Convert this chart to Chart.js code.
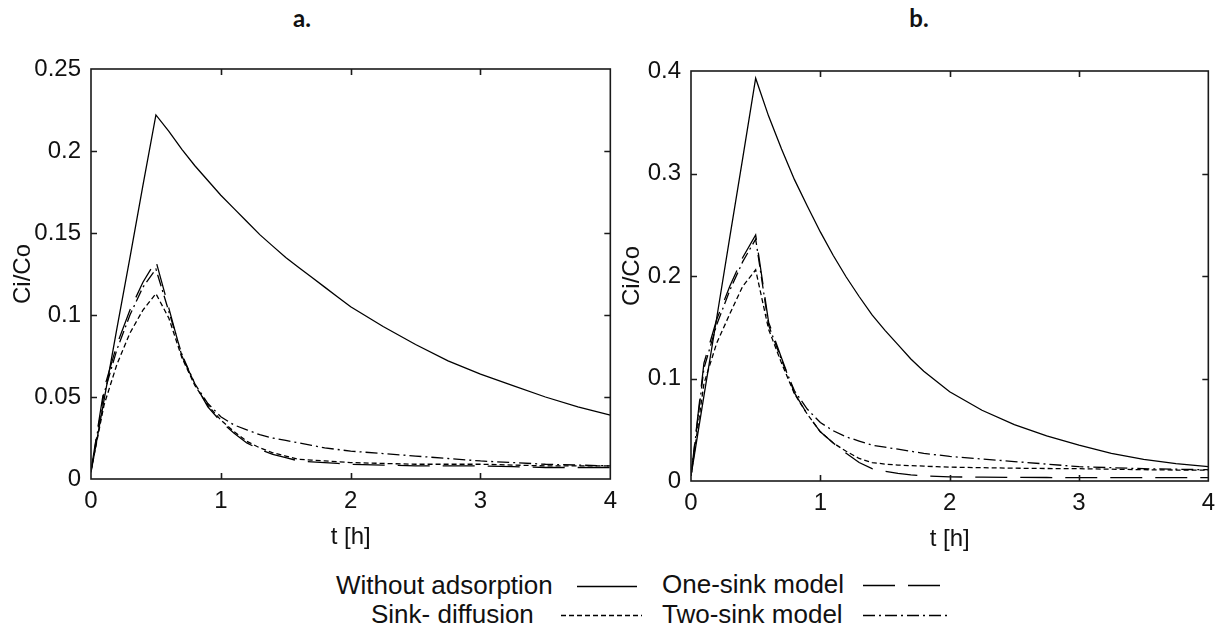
<!DOCTYPE html>
<html>
<head>
<meta charset="utf-8">
<script src="https://cdn.jsdelivr.net/npm/chart.js@4.4.1/dist/chart.umd.min.js"></script>
<style>
  html, body { margin: 0; padding: 0; background: #fff; }
  body { width: 1223px; height: 633px; position: relative; overflow: hidden;
         font-family: "Liberation Sans", Arial, sans-serif; color: #111; }
  .panel { position: absolute; }
  #wrapA { left: 0; top: 0; width: 625px; height: 560px; }
  #wrapB { left: 615px; top: 2px; width: 608px; height: 560px; }
  .title { position: absolute; top: 6px; width: 60px; text-align: center;
           font-family: Lato, "Open Sans", sans-serif; font-weight: 700; font-size: 24px; line-height: 24px; }
  .lg { position: absolute; font-size: 26px; line-height: 30px; white-space: pre; }
  #legendLines { position: absolute; left: 0; top: 0; }
</style>
</head>
<body>
<div class="title" style="left:272px">a.</div>
<div class="title" style="left:889px">b.</div>
<div class="panel" id="wrapA"><canvas id="chartA"></canvas></div>
<div class="panel" id="wrapB"><canvas id="chartB"></canvas></div>
<div id="legend"></div>
<svg id="legendLines" width="1223" height="633"></svg>

<script>
// time points [h], shared by every curve
const times = [0, 0.1, 0.2, 0.3, 0.4, 0.5, 0.6, 0.7, 0.8, 0.9,
               1.0, 1.1, 1.2, 1.3, 1.4, 1.5, 1.6, 1.7, 1.8, 1.9,
               2.0, 2.25, 2.5, 2.75, 3.0, 3.25, 3.5, 3.75, 4.0];

const seriesNames = ['Without adsorption', 'One-sink model', 'Sink- diffusion', 'Two-sink model'];

// panel a
const withoutA  = [0.004, 0.048, 0.092, 0.135, 0.179, 0.222, 0.212, 0.201, 0.191, 0.182,
                   0.173, 0.165, 0.157, 0.149, 0.142, 0.135, 0.129, 0.123, 0.117, 0.111,
                   0.105, 0.093, 0.082, 0.072, 0.064, 0.057, 0.050, 0.044, 0.039];
const oneSinkA  = [0.005, 0.055, 0.082, 0.103, 0.120, 0.133, 0.104, 0.075, 0.058, 0.044,
                   0.035, 0.028, 0.022, 0.018, 0.015, 0.013, 0.011, 0.0105, 0.010, 0.0095,
                   0.009, 0.0085, 0.008, 0.008, 0.008, 0.0075, 0.007, 0.007, 0.007];
const sinkDiffA = [0.005, 0.045, 0.070, 0.089, 0.103, 0.113, 0.098, 0.074, 0.057, 0.045,
                   0.036, 0.029, 0.023, 0.019, 0.016, 0.014, 0.012, 0.0115, 0.011, 0.0105,
                   0.010, 0.0095, 0.009, 0.009, 0.009, 0.0085, 0.008, 0.008, 0.008];
const twoSinkA  = [0.005, 0.052, 0.079, 0.100, 0.117, 0.128, 0.102, 0.076, 0.058, 0.046,
                   0.038, 0.033, 0.030, 0.027, 0.025, 0.0235, 0.022, 0.0205, 0.019, 0.018,
                   0.017, 0.0155, 0.014, 0.0125, 0.011, 0.010, 0.009, 0.0085, 0.008];

// panel b
const withoutB  = [0.005, 0.083, 0.160, 0.238, 0.315, 0.393, 0.356, 0.324, 0.294, 0.268,
                   0.243, 0.220, 0.199, 0.180, 0.162, 0.147, 0.133, 0.119, 0.107, 0.097,
                   0.087, 0.069, 0.055, 0.044, 0.035, 0.027, 0.021, 0.017, 0.014];
const oneSinkB  = [0.005, 0.115, 0.158, 0.190, 0.218, 0.240, 0.155, 0.120, 0.086, 0.065,
                   0.048, 0.037, 0.027, 0.018, 0.012, 0.0095, 0.0075, 0.006, 0.005, 0.0045,
                   0.004, 0.0037, 0.0035, 0.0034, 0.0033, 0.0033, 0.0032, 0.0032, 0.0032];
const sinkDiffB = [0.005, 0.095, 0.135, 0.163, 0.190, 0.206, 0.148, 0.115, 0.085, 0.065,
                   0.048, 0.037, 0.029, 0.022, 0.018, 0.0165, 0.0155, 0.015, 0.0145, 0.014,
                   0.0135, 0.013, 0.0125, 0.0122, 0.012, 0.0115, 0.011, 0.0107, 0.0105];
const twoSinkB  = [0.005, 0.110, 0.153, 0.186, 0.214, 0.236, 0.152, 0.118, 0.088, 0.070,
                   0.057, 0.049, 0.043, 0.039, 0.035, 0.033, 0.031, 0.029, 0.027, 0.0255,
                   0.024, 0.0215, 0.019, 0.0165, 0.014, 0.013, 0.012, 0.0115, 0.011];

// axis ticks
const xTicks  = [0, 1, 2, 3, 4];
const yTicksA = [0, 0.05, 0.1, 0.15, 0.2, 0.25];
const yTicksB = [0, 0.1, 0.2, 0.3, 0.4];

// line styles: solid, long dash, short dash, dash-dot
const dashes = [[], [32, 13], [5, 3], [12, 4, 2, 4]];

const tickFont = { family: '"Liberation Sans", Arial, sans-serif', size: 24 };

// closed box with inward ticks on all four sides, like the original figure
const boxTicks = {
  id: 'boxTicks',
  afterDraw(chart) {
    const { ctx, chartArea: a, scales: { x, y } } = chart;
    ctx.save();
    ctx.strokeStyle = '#1a1a1a';
    ctx.lineWidth = 1.6;
    ctx.strokeRect(a.left, a.top, a.right - a.left, a.bottom - a.top);
    ctx.beginPath();
    x.ticks.forEach(t => {
      const px = Math.round(x.getPixelForValue(t.value)) + 0.5;
      if (px < a.left + 2 || px > a.right - 2) return;
      ctx.moveTo(px, a.bottom); ctx.lineTo(px, a.bottom - 6);
      ctx.moveTo(px, a.top); ctx.lineTo(px, a.top + 6);
    });
    y.ticks.forEach(t => {
      const py = Math.round(y.getPixelForValue(t.value)) + 0.5;
      if (py < a.top + 2 || py > a.bottom - 2) return;
      ctx.moveTo(a.left, py); ctx.lineTo(a.left + 6, py);
      ctx.moveTo(a.right, py); ctx.lineTo(a.right - 6, py);
    });
    ctx.stroke();
    ctx.restore();
  }
};

function makeChart(id, curves, yTicks, o) {
  const datasets = curves.map((vals, i) => ({
    label: seriesNames[i],
    data: times.map((t, j) => ({ x: t, y: vals[j] })),
    borderColor: '#000',
    borderWidth: 1.3,
    borderDash: dashes[i],
    pointRadius: 0,
    tension: 0,
    fill: false
  }));
  return new Chart(document.getElementById(id), {
    type: 'line',
    data: { datasets },
    options: {
      responsive: true,
      maintainAspectRatio: false,
      animation: false,
      layout: { padding: { left: 0, top: 69, right: o.right, bottom: 1 } },
      plugins: { legend: { display: false }, tooltip: { enabled: false } },
      scales: {
        x: {
          type: 'linear',
          min: 0, max: 4,
          afterBuildTicks: s => { s.ticks = xTicks.map(v => ({ value: v })); },
          afterFit: s => { s.height = 80; },
          grid: { display: false, drawTicks: false },
          border: { display: false },
          ticks: { font: tickFont, color: '#111', padding: 8, maxRotation: 0, callback: v => String(v) },
          title: { display: true, text: 't [h]', font: tickFont, color: '#111', padding: { top: 0, bottom: 7 } }
        },
        y: {
          min: 0, max: yTicks[yTicks.length - 1],
          afterBuildTicks: s => { s.ticks = yTicks.map(v => ({ value: v })); },
          afterFit: s => { s.width = o.yWidth; },
          grid: { display: false, drawTicks: false },
          border: { display: false },
          ticks: { font: tickFont, color: '#111', padding: 10, callback: v => String(v) },
          title: { display: true, text: 'Ci/Co', font: tickFont, color: '#111', padding: { top: o.titlePad, bottom: 0 } }
        }
      }
    },
    plugins: [boxTicks]
  });
}

makeChart('chartA', [withoutA, oneSinkA, sinkDiffA, twoSinkA], yTicksA, { right: 14, yWidth: 91, titlePad: 9 });
makeChart('chartB', [withoutB, oneSinkB, sinkDiffB, twoSinkB], yTicksB, { right: 11, yWidth: 76, titlePad: 3 });

// shared legend below both panels
const legendSlots = [
  { tx: 336, ty: 570, x1: 577, x2: 637, ly: 586 },
  { tx: 662, ty: 569, x1: 863, x2: 942, ly: 585 },
  { tx: 371, ty: 599, x1: 561, x2: 642, ly: 615 },
  { tx: 662, ty: 599, x1: 863, x2: 950, ly: 615 }
];
const legendDiv = document.getElementById('legend');
const svg = document.getElementById('legendLines');
seriesNames.forEach((name, i) => {
  const s = legendSlots[i];
  const d = document.createElement('div');
  d.className = 'lg';
  d.style.left = s.tx + 'px';
  d.style.top = s.ty + 'px';
  d.textContent = name;
  legendDiv.appendChild(d);
  const ln = document.createElementNS('http://www.w3.org/2000/svg', 'line');
  ln.setAttribute('x1', s.x1); ln.setAttribute('x2', s.x2);
  ln.setAttribute('y1', s.ly + 0.5); ln.setAttribute('y2', s.ly + 0.5);
  ln.setAttribute('stroke', '#000');
  ln.setAttribute('stroke-width', '1.4');
  if (dashes[i].length) ln.setAttribute('stroke-dasharray', dashes[i].join(' '));
  svg.appendChild(ln);
});
</script>
</body>
</html>
